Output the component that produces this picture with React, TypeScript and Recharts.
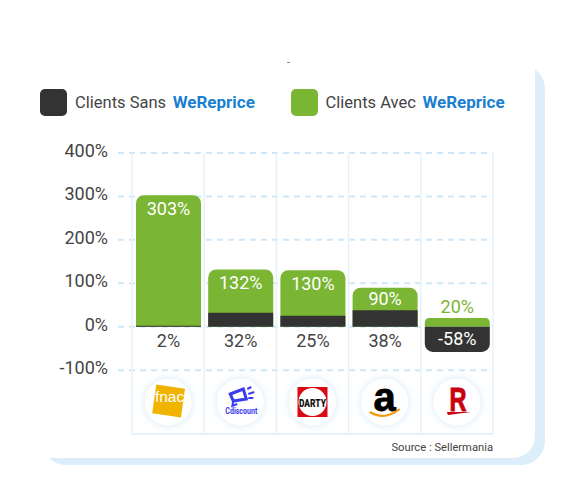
import { BarChart, Bar, XAxis, YAxis, CartesianGrid, LabelList, Rectangle } from 'recharts';

const categories = ['Fnac', 'Cdiscount', 'Darty', 'Amazon', 'Rakuten'];
const avecValues = [303, 132, 130, 90, 20];
const sansValues = [2, 32, 25, 38, -58];
const yTicks = [-100, 0, 100, 200, 300, 400];

const GREEN = '#7ab533';
const DARK = '#333333';
const BLUE = '#1a7fd0';
const TEXT = '#444444';
const FONT = 'Roboto, sans-serif';

const chartData = categories.map((name, i) => ({
  name,
  avec: avecValues[i],
  sans: sansValues[i],
}));

function Logo({ name }: { name: string }) {
  if (name === 'Fnac') {
    return (
      <g>
        <rect x={-14.5} y={-14.5} width={29} height={29} fill="#efb300" transform="translate(0.5,-1) rotate(8)" />
        <text x={1.5} y={0} textAnchor="middle" fontSize={15.5} fill="#fff" fontFamily="Liberation Sans">fnac</text>
      </g>
    );
  }
  if (name === 'Cdiscount') {
    return (
      <g>
        <path d="M-10 -8 L3 -13 L6 -3 L-7 -1 Z" fill="none" stroke="#3a3cf0" strokeWidth={3} />
        <path d="M-7 -1 L-8 4 L-3 2" fill="none" stroke="#3a3cf0" strokeWidth={2} />
        <path d="M7 -13 L11 -15 M8 -8 L14 -10 M8 -4 L13 -4" stroke="#3a3cf0" strokeWidth={2} />
        <text x={1} y={12} textAnchor="middle" fontSize={9} fontWeight={700} fill="#3a3cf0" fontFamily={FONT} textLength={32} lengthAdjust="spacingAndGlyphs">Cdiscount</text>
      </g>
    );
  }
  if (name === 'Darty') {
    return (
      <g>
        <rect x={-15} y={-15} width={30} height={30} fill="#d90a12" />
        <circle r={14} fill="#fff" />
        <text x={0} y={4.5} textAnchor="middle" fontSize={11} fontWeight={900} fill="#111" fontFamily={FONT} textLength={27} lengthAdjust="spacingAndGlyphs">DARTY</text>
      </g>
    );
  }
  if (name === 'Amazon') {
    return (
      <g>
        <text x={0} y={9} textAnchor="middle" fontSize={40} fontWeight={700} fill="#000" stroke="#000" strokeWidth={0.8} fontFamily="Liberation Sans">a</text>
        <path d="M-15 10 Q0 19 15 7" fill="none" stroke="#f29b12" strokeWidth={2.2} />
      </g>
    );
  }
  return (
    <g>
      <text x={1} y={9} textAnchor="middle" fontSize={33} fontWeight={700} fill="#c8000f" stroke="#c8000f" strokeWidth={1} fontFamily="Liberation Sans" textLength={17} lengthAdjust="spacingAndGlyphs">R</text>
      <path d="M-10 10 L14 10 L-9 13 Z" fill="#c8000f" />
    </g>
  );
}

function LogoTick({ x, y, payload }: any) {
  return (
    <g transform={`translate(${x},${y - 40})`}>
      <circle r={23.5} fill="#fff" style={{ filter: 'drop-shadow(0 0 4px #d5e9f9)' }} />
      <Logo name={payload.value} />
    </g>
  );
}

function AvecLabel({ x, y, width, value }: any) {
  const inside = value > 50;
  const inset = value >= 100 ? 20 : 17;
  return (
    <text
      x={x + width / 2}
      y={inside ? y + inset : y - 5}
      textAnchor="middle"
      fontSize={18}
      fontFamily={FONT}
      fill={inside ? '#fff' : GREEN}
    >
      {value}%
    </text>
  );
}

function SansLabel({ x, y, width, height, value }: any) {
  const negative = value < 0;
  // la barre negative a y en bas, height negatif
  return (
    <text
      x={x + width / 2}
      y={negative ? y - 7 : y + height + 20}
      textAnchor="middle"
      fontSize={18}
      fontFamily={FONT}
      fill={negative ? '#fff' : TEXT}
    >
      {value}%
    </text>
  );
}

function SansBar(props: any) {
  return <Rectangle {...props} radius={props.payload.sans < 0 ? [8, 8, 0, 0] : 0} />;
}

function YTick({ x, y, payload }: any) {
  return (
    <text x={x} y={y + 4} textAnchor="end" fontSize={18} fill={TEXT} fontFamily={FONT}>
      {payload.value}%
    </text>
  );
}

function LegendItem({ left, color, label }: { left: number; color: string; label: string }) {
  return (
    <div style={{ position: 'absolute', left, top: 88, height: 28, display: 'flex', alignItems: 'center', fontFamily: FONT, whiteSpace: 'nowrap' }}>
      <div style={{ width: 27, height: 27, borderRadius: 5, background: color, marginRight: 8 }} />
      <span style={{ fontSize: 16.5, color: TEXT, whiteSpace: 'pre' }}>{label} </span>
      <span style={{ fontSize: 17, color: BLUE, fontWeight: 700, marginLeft: 2.5 }}>WeReprice</span>
    </div>
  );
}

export default function App() {
  return (
    <div style={{ position: 'absolute', left: 0, top: 0, width: 565, height: 500, overflow: 'hidden', background: '#fff' }}>
      <div style={{ position: 'absolute', left: 42, top: 65, width: 503, height: 400, borderRadius: 24, background: '#dceef9' }} />
      <div style={{ position: 'absolute', left: 0, top: 0, width: 535, height: 458, borderBottomRightRadius: 22, background: '#fff' }} />
      <div style={{ position: 'absolute', left: 287, top: 57, fontSize: 10, color: '#555', fontFamily: FONT }}>-</div>
      <LegendItem left={40} color={DARK} label="Clients Sans" />
      <LegendItem left={290.5} color={GREEN} label="Clients Avec" />
      {/* ligne du bas du tableau, commence a la premiere colonne */}
      <div style={{ position: 'absolute', left: 132, top: 433, width: 361, height: 2, background: '#e6f2fb' }} />
      <div style={{ position: 'absolute', left: 0, top: 0 }}>
        <BarChart
          width={565}
          height={500}
          data={chartData}
          margin={{ top: 153, right: 72, bottom: 36, left: 0 }}
          barSize={65}
          barGap={-65}
        >
          <CartesianGrid
            vertical={false}
            horizontalValues={yTicks}
            stroke="#cfe7f8"
            strokeWidth={2}
            strokeDasharray="6 5"
          />
          <CartesianGrid
            horizontal={false}
            stroke="#e6f2fb"
            strokeWidth={1.5}
            verticalCoordinatesGenerator={({ offset }: any) =>
              categories.map((_, i) => offset.left + 14 + (i * (offset.width - 14)) / categories.length).concat(offset.left + offset.width)
            }
          />
          <XAxis
            dataKey="name"
            axisLine={false}
            tickLine={false}
            height={30}
            padding={{ left: 14, right: 0 }}
            interval={0}
            tick={<LogoTick />}
          />
          <YAxis
            width={118}
            domain={[-247, 400]}
            ticks={yTicks}
            allowDataOverflow
            axisLine={false}
            tickLine={false}
            tickSize={0}
            tickMargin={10}
            tick={<YTick />}
          />
          <Bar dataKey="avec" fill={GREEN} radius={[8, 8, 0, 0]} isAnimationActive={false}>
            <LabelList dataKey="avec" content={<AvecLabel />} />
          </Bar>
          <Bar dataKey="sans" fill={DARK} shape={<SansBar />} isAnimationActive={false}>
            <LabelList dataKey="sans" content={<SansLabel />} />
          </Bar>
        </BarChart>
      </div>
      <div style={{ position: 'absolute', right: 72, top: 441, fontSize: 11.2, color: TEXT, fontFamily: FONT }}>Source : Sellermania</div>
    </div>
  );
}
